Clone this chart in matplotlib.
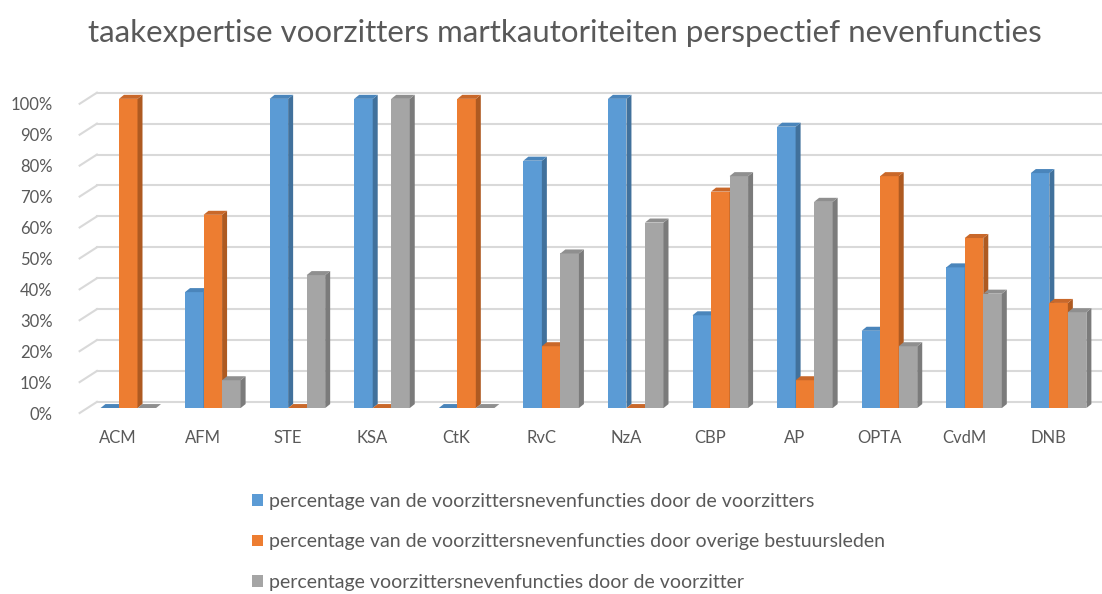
import matplotlib.pyplot as plt
from matplotlib.patches import Polygon
from matplotlib.transforms import ScaledTranslation

plt.rcParams['font.family'] = ['Lato', 'DejaVu Sans']

categories = ['ACM', 'AFM', 'STE', 'KSA', 'CtK', 'RvC', 'NzA', 'CBP', 'AP', 'OPTA', 'CvdM', 'DNB']
door_voorzitters = [0, 37.5, 100, 100, 0, 80, 100, 30, 91, 25, 45.5, 76]
door_overige = [100, 62.5, 0, 0, 100, 20, 0, 70, 9, 75, 55, 34]
door_voorzitter = [0, 9, 43, 100, 0, 50, 60, 75, 66.7, 20, 37, 31]
series_labels = ['percentage van de voorzittersnevenfuncties door de voorzitters',
                 'percentage van de voorzittersnevenfuncties door overige bestuursleden',
                 'percentage voorzittersnevenfuncties door de voorzitter']
yticks = list(range(0, 101, 10))

front = ['#5b9bd5', '#ed7d31', '#a5a5a5']
side = ['#41719c', '#ae5a21', '#7b7b7b']
top = ['#4a85bb', '#c9682a', '#8f8f8f']

fig = plt.figure(figsize=(11.02, 5.94), dpi=100)
ax = fig.add_axes([0.078, 0.313, 0.921, 0.544])

w = 0.219
dx, dy = 0.059, 1.3
x = list(range(len(categories)))
handles = []
for k, vals in enumerate([door_voorzitters, door_overige, door_voorzitter]):
    xs = [xi + (k - 1) * w for xi in x]
    bars = ax.bar(xs, vals, width=w, color=front[k], zorder=3, label=series_labels[k])
    handles.append(bars)
    for xc, v in zip(xs, vals):
        x0, x1 = xc - w / 2, xc + w / 2
        ax.add_patch(Polygon([(x1, 0), (x1 + dx, dy), (x1 + dx, v + dy), (x1, v)],
                             closed=True, color=side[k], zorder=3, lw=0))
        ax.add_patch(Polygon([(x0, v), (x0 + dx, v + dy), (x1 + dx, v + dy), (x1, v)],
                             closed=True, color=top[k], zorder=3, lw=0))

# back-wall gridlines with a short floor diagonal on the left
for t in yticks:
    ax.plot([-0.575, -0.37], [t - 1.6, t + 2.0], color='#d9d9d9', lw=1.5, zorder=1, clip_on=False)
    ax.plot([-0.37, 11.5], [t + 2.0, t + 2.0], color='#d9d9d9', lw=1.5, zorder=1, clip_on=False)

ax.set_xlim(-0.5, 11.5)
ax.set_ylim(0, 104.5)
ax.set_xticks(x)
ax.set_xticklabels(categories)
ax.set_yticks(yticks)
ax.set_yticklabels([f'{t}%' for t in yticks])
ax.tick_params(axis='both', length=0, labelsize=12, colors='#595959')
ax.tick_params(axis='y', pad=24)
ax.tick_params(axis='x', pad=16)
for lab in ax.get_xticklabels():
    lab.set_transform(lab.get_transform() + ScaledTranslation(-0.1, 0, fig.dpi_scale_trans))
for lab in ax.get_yticklabels():
    lab.set_transform(lab.get_transform() + ScaledTranslation(0, -0.05, fig.dpi_scale_trans))
for s in ax.spines.values():
    s.set_visible(False)

fig.text(0.513, 0.944, 'taakexpertise voorzitters martkautoriteiten perspectief nevenfuncties',
         ha='center', va='center', fontsize=22.5, color='#595959')

fig.legend(handles=handles, labels=series_labels, loc='upper left', bbox_to_anchor=(0.222, 0.183),
           frameon=False, fontsize=14, labelcolor='#595959', handlelength=0.55, handleheight=0.55,
           handletextpad=0.3, labelspacing=1.2, borderaxespad=0)

fig.savefig('out.png', dpi=100)
